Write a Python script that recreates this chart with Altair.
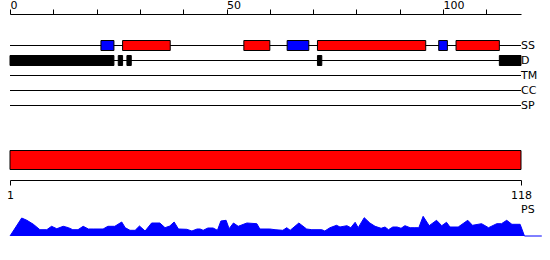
import altair as alt
import pandas as pd

SEQ_LEN = 118
TRACKS = ["SS", "D", "TM", "CC", "SP"]

# secondary structure (SS) elements
SS_START = [21, 26, 54, 64, 71, 99, 103]
SS_END = [24, 37, 60, 69, 96, 101, 113]
SS_TYPE = ["strand", "helix", "helix", "strand", "helix", "strand", "helix"]

# disorder (D) segments
DIS_START = [0, 25, 27, 71, 113]
DIS_END = [24, 26, 28, 72, 118]

TOP_TICKS = list(range(0, 111, 10))
BOTTOM_TICKS = [1, 118]

# PS profile
PS_POS = [0, 2.7, 3.9, 5.4, 6.9, 8.5, 9.6, 10.8, 12.3, 13.5, 14.5, 15.7, 16.9, 18.1, 19.2,
          21.5, 22.6, 24.2, 25.8, 26.6, 27.7, 28.9, 29.9, 31.2, 32.7, 34.6, 35.8, 36.9, 37.9,
          38.9, 40.8, 42.0, 43.2, 43.9, 44.6, 45.7, 46.9, 47.9, 48.7, 49.9, 50.6, 51.6, 52.7,
          54.7, 57.0, 57.7, 60.0, 61.2, 63.0, 63.9, 64.7, 66.7, 68.5, 69.7, 72.0, 72.7, 73.9,
          75.4, 76.2, 77.8, 78.7, 79.7, 80.4, 81.8, 83.1, 84.3, 85.7, 86.6, 87.4, 88.4, 89.4,
          90.3, 91.2, 92.4, 93.5, 94.4, 95.4, 96.8, 98.5, 99.7, 100.8, 101.6, 103.5, 105.7,
          106.8, 108.9, 110.5, 112.4, 113.5, 114.7, 115.9, 117.8, 118.8, 122.8]
PS_VAL = [0, 18, 15.7, 11.7, 6.3, 6.3, 9.7, 7.3, 9.7, 8.3, 6.3, 6.3, 9.7, 7, 7,
          7, 9.7, 9.7, 14, 8.3, 5.7, 5.7, 10, 5, 13, 13, 8.3, 10, 14,
          7, 6.7, 5, 7, 7, 5.7, 8, 8, 5.7, 15, 15.7, 7.3, 13, 9.7,
          13, 12.3, 7, 7, 6.3, 5.7, 8.3, 5.7, 13, 7, 6.3, 6.3, 5, 8.3,
          10.7, 9, 10.3, 8.3, 13.7, 8.3, 18.3, 13, 9.7, 7.7, 9, 6.3, 9, 9,
          7.7, 10.3, 8.3, 8.3, 8.3, 19.7, 10.3, 15.7, 10.3, 13.7, 9, 9, 15.7,
          10.7, 12.3, 8.3, 12.3, 12.3, 15.7, 11.7, 11.7, 0, 0]
PS_TOP = 26

FONT = "DejaVu Sans"

tracks_df = pd.DataFrame({"track": TRACKS, "start": [0] * len(TRACKS), "end": [SEQ_LEN] * len(TRACKS)})
boxes_df = pd.concat([
    pd.DataFrame({"track": "SS", "start": SS_START, "end": SS_END, "kind": SS_TYPE}),
    pd.DataFrame({"track": "D", "start": DIS_START, "end": DIS_END, "kind": "disorder"}),
], ignore_index=True)
bar_df = pd.DataFrame({"row": ["domain"], "start": [BOTTOM_TICKS[0]], "end": [BOTTOM_TICKS[-1]]})
ps_df = pd.DataFrame({"pos": PS_POS, "val": PS_VAL})
ps_lab = pd.DataFrame({"label": ["PS"], "pos": [SEQ_LEN], "val": [PS_TOP]})

xs = alt.Scale(domain=[0, SEQ_LEN], nice=False, zero=False)
ys_track = alt.Scale(type="point", domain=TRACKS, range=[45.5, 105.5], padding=0)

lines = alt.Chart(tracks_df).mark_rule(color="black", strokeWidth=1).encode(
    x=alt.X("start:Q", scale=xs, axis=alt.Axis(
        orient="top", offset=-14, values=TOP_TICKS, tickSize=5,
        labelExpr="datum.value % 50 == 0 ? datum.label : ''",
        labelAlign="left", labelBaseline="alphabetic", labelPadding=1,
        labelFont=FONT, labelFontSize=11, labelColor="black",
        tickColor="black", domainColor="black", grid=False, title=None,
        labelFlush=False, labelOverlap=False, labelBound=False)),
    x2="end:Q",
    y=alt.Y("track:N", scale=ys_track, axis=None),
)

labels = alt.Chart(tracks_df).mark_text(
    align="left", baseline="middle", dx=0, font=FONT, fontSize=11, color="black"
).encode(
    x=alt.X("end:Q", scale=xs, axis=None),
    y=alt.Y("track:N", scale=ys_track, axis=None),
    text="track:N",
)

boxes = alt.Chart(boxes_df).mark_bar(size=10, stroke="black", strokeWidth=1, opacity=1).encode(
    x=alt.X("start:Q", scale=xs, axis=None),
    x2="end:Q",
    y=alt.Y("track:N", scale=ys_track, axis=None),
    color=alt.Color("kind:N", scale=alt.Scale(domain=["helix", "strand", "disorder"],
                                              range=["#ff0000", "#0000ff", "#000000"]), legend=None),
)

bar = alt.Chart(bar_df).mark_rect(color="#ff0000", stroke="black", strokeWidth=1, opacity=1).encode(
    x=alt.X("start:Q", scale=alt.Scale(domain=[BOTTOM_TICKS[0], BOTTOM_TICKS[-1]], nice=False, zero=False),
            axis=alt.Axis(orient="bottom", offset=-80, values=BOTTOM_TICKS, tickSize=5,
                          labelAlign="center", labelBaseline="top", labelPadding=4,
                          labelFont=FONT, labelFontSize=11, labelColor="black",
                          tickColor="black", domainColor="black", grid=False, title=None,
                          labelFlush=False, labelOverlap=False, labelBound=False)),
    x2="end:Q",
    y=alt.Y("row:N", scale=alt.Scale(type="band", domain=["domain"], range=[150.5, 169.5],
                                     paddingInner=0, paddingOuter=0), axis=None),
)

ys_ps = alt.Scale(domain=[0, PS_TOP], range=[236, 236 - PS_TOP], nice=False, zero=False)
ps = alt.Chart(ps_df).mark_area(color="#0000ff", opacity=1,
                                line={"color": "#0000ff", "strokeWidth": 1}).encode(
    x=alt.X("pos:Q", scale=xs, axis=None),
    y=alt.Y("val:Q", scale=ys_ps, axis=None),
)
ps_text = alt.Chart(ps_lab).mark_text(
    align="left", baseline="middle", font=FONT, fontSize=11, color="black"
).encode(
    x=alt.X("pos:Q", scale=xs, axis=None),
    y=alt.Y("val:Q", scale=ys_ps, axis=None),
    text="label:N",
)

chart = alt.layer(lines, labels, boxes, bar, ps, ps_text).resolve_scale(
    x="independent", y="independent", color="independent"
).properties(
    width=511, height=260,
    padding={"left": 10, "right": 29, "top": 0, "bottom": 0},
    autosize="none", background="white",
).configure_view(stroke=None)

chart.save("out.html", embed_options={"renderer": "svg", "actions": False})
